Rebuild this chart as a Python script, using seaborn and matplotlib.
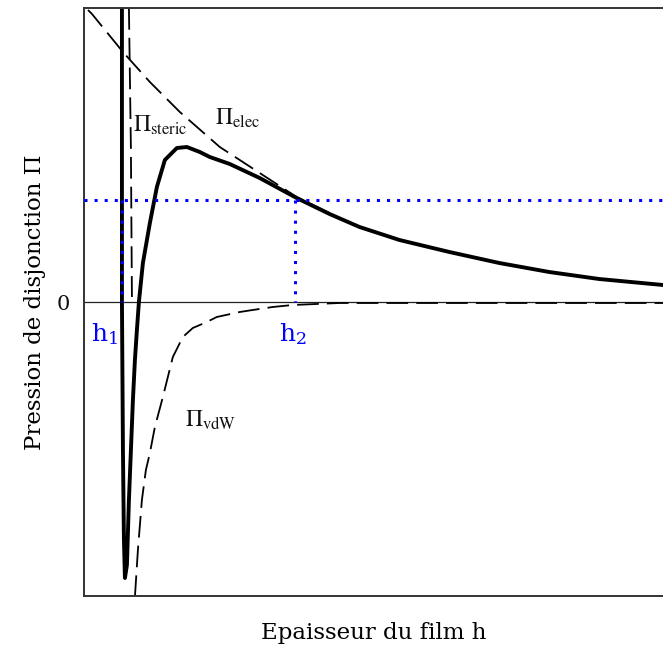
import numpy as np
import pandas as pd
import seaborn as sns
import matplotlib.pyplot as plt

# values (h in arbitrary units, Pi with 0 at the zero line)
h_total = [38, 38, 39, 40, 41, 43, 45, 47, 49, 51, 53, 55, 59, 66, 73, 81, 93, 103, 116, 126,
           146, 176, 213, 246, 276, 316, 366, 416, 466, 516, 580]
pi_total = [294, 2, -148, -238, -276, -263, -198, -148, -98, -58, -28, 0, 39, 79, 115, 142, 154, 155, 150, 145,
            138, 124, 104, 88, 75, 62, 50, 39, 30, 23, 17]

h_elec = [4, 8, 39, 66, 96, 136, 176, 213, 246]
pi_elec = [292, 288, 250, 220, 190, 155, 129, 105, 89]

h_steric = [45, 47, 48]
pi_steric = [294, 152, 5]

h_vdw = [51, 54, 58, 62, 66, 71, 79, 89, 99, 109, 123, 133, 156, 169, 189, 209, 256, 366, 496, 580]
pi_vdw = [-295, -248, -198, -168, -151, -125, -95, -55, -35, -26, -20, -15, -10, -8, -5, -3, -1, -1, -1, -1]

pi_level = 102
h1 = 38
h2 = 211

sns.set_style('white')
plt.rcParams['font.family'] = ['DejaVu Serif']
plt.rcParams['mathtext.fontset'] = 'stix'

fig = plt.figure(figsize=(6.63, 6.52), dpi=100)
ax = fig.add_axes([84 / 663, 56 / 652, 1 - 84 / 663, 588 / 652])

total = pd.DataFrame({'h': h_total, 'Pi': pi_total})
elec = pd.DataFrame({'h': h_elec, 'Pi': pi_elec})
steric = pd.DataFrame({'h': h_steric, 'Pi': pi_steric})
vdw = pd.DataFrame({'h': h_vdw, 'Pi': pi_vdw})

ax.axhline(0, color='#222222', lw=0.9, zorder=1)

dash = dict(color='black', lw=1.3, dashes=(12, 4.5))
sns.lineplot(data=elec, x='h', y='Pi', sort=False, estimator=None, ax=ax, **dash)
sns.lineplot(data=steric, x='h', y='Pi', sort=False, estimator=None, ax=ax, **dash)
sns.lineplot(data=vdw, x='h', y='Pi', sort=False, estimator=None, ax=ax, **dash)
sns.lineplot(data=total, x='h', y='Pi', sort=False, estimator=None, ax=ax,
             color='black', lw=2.8)

dot = dict(color='#0000ff', lw=2.2, linestyle=(0, (1, 2.3)), zorder=5)
ax.plot([0, 580], [pi_level, pi_level], **dot)
ax.plot([h1, h1], [pi_level, 0], **dot)
ax.plot([h2, h2], [pi_level, 0], **dot)

ax.text(h1 - 17, -32, r'$\mathregular{h_1}$', color='#0000ff', fontsize=18,
        ha='center', va='center', family='DejaVu Serif')
ax.text(h2 - 2, -32, r'$\mathregular{h_2}$', color='#0000ff', fontsize=18,
        ha='center', va='center', family='DejaVu Serif')

ax.text(49, 177, r'$\Pi_{\mathrm{steric}}$', fontsize=17, ha='left', va='center', color='#111111')
ax.text(131, 184, r'$\Pi_{\mathrm{elec}}$', fontsize=17, ha='left', va='center', color='#111111')
ax.text(101, -118, r'$\Pi_{\mathrm{vdW}}$', fontsize=17, ha='left', va='center', color='#111111')

ax.set_xlim(0, 580)
ax.set_ylim(-294, 294)
ax.set_xticks([])
ax.set_yticks([0])
ax.set_yticklabels(['0'], fontsize=15, color='#111111')
ax.tick_params(axis='y', length=0, pad=10)
ax.set_xlabel('Epaisseur du film h', fontsize=16.5, labelpad=19, color='black')
ax.set_ylabel('Pression de disjonction \u03a0', fontsize=16.5, labelpad=8, color='black')

for side in ['left', 'top', 'bottom']:
    ax.spines[side].set_color('#333333')
    ax.spines[side].set_linewidth(1.4)
ax.spines['right'].set_visible(False)

fig.savefig('out.png', dpi=100)
